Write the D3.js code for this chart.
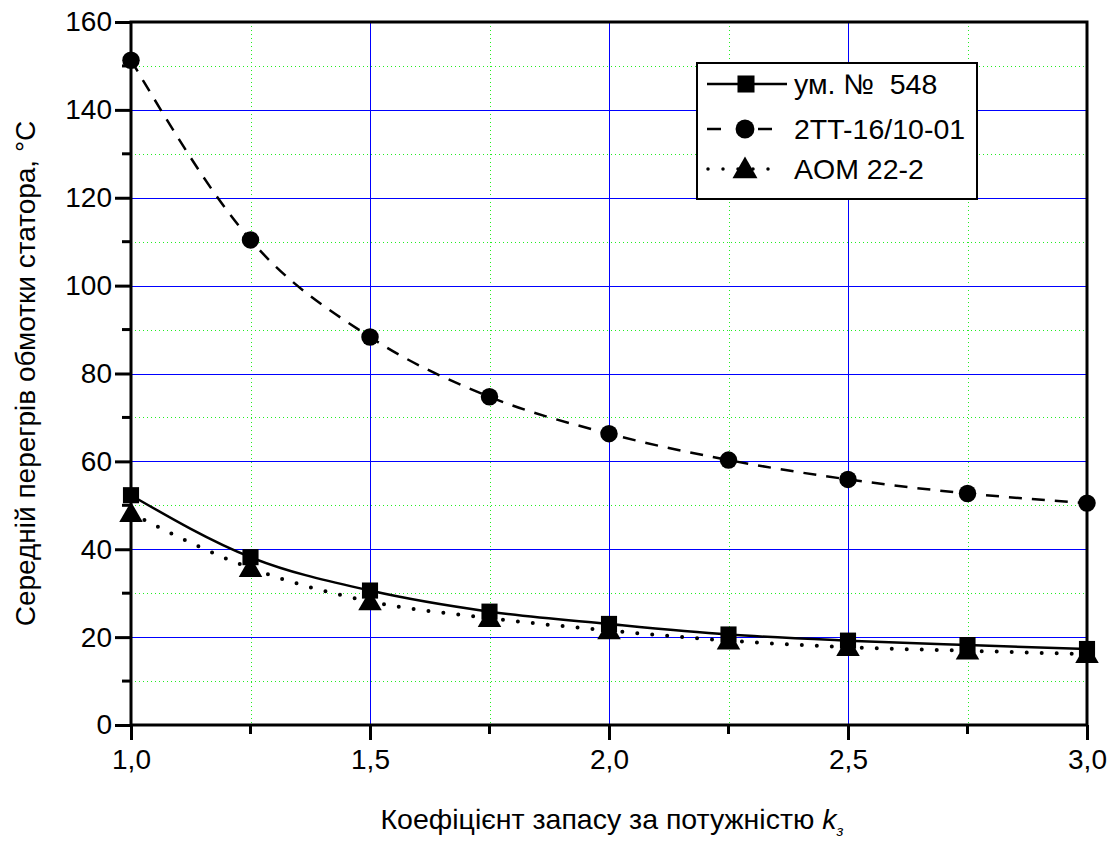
<!DOCTYPE html>
<html>
<head>
<meta charset="utf-8">
<script src="https://cdn.jsdelivr.net/npm/d3@7"></script>
<style>
  body { margin: 0; background: #fff; }
  svg { font-family: Arial, "Liberation Sans", sans-serif; }
</style>
</head>
<body>
<svg id="chart" width="1116" height="841"></svg>
<script>
// x values (коефіцієнт запасу)
const kValues = [1.0, 1.25, 1.5, 1.75, 2.0, 2.25, 2.5, 2.75, 3.0];
// series
const um548 = [52.3, 38.2, 30.6, 25.8, 23.0, 20.6, 19.2, 18.2, 17.3];
const tt16 = [151.3, 110.4, 88.3, 74.7, 66.3, 60.3, 55.9, 52.7, 50.5];
const aom22 = [48.2, 35.7, 28.1, 24.3, 21.5, 19.2, 17.7, 16.9, 16.1];
const seriesNames = ['ум. №  548', '2TT-16/10-01', 'AOM 22-2'];
const xTicks = [1.0, 1.5, 2.0, 2.5, 3.0];
const yTicks = [0, 20, 40, 60, 80, 100, 120, 140, 160];

const margin = { top: 22, right: 29, bottom: 116, left: 131 };
const width = 1116 - margin.left - margin.right;
const height = 841 - margin.top - margin.bottom;

const svg = d3.select('#chart');
const g = svg.append('g').attr('transform', `translate(${margin.left},${margin.top})`);

const x = d3.scaleLinear().domain([1, 3]).range([0, width]);
const y = d3.scaleLinear().domain([0, 160]).range([height, 0]);
const px = v => Math.round(v) + 0.5;

// minor grid (green dotted)
const minorX = [1.25, 1.75, 2.25, 2.75];
const minorY = d3.range(10, 160, 20);
g.selectAll('.gminx').data(minorX).enter().append('line')
  .attr('x1', d => px(x(d))).attr('x2', d => px(x(d))).attr('y1', 0).attr('y2', height)
  .attr('stroke', '#22ee22').attr('stroke-width', 1).attr('stroke-dasharray', '1,3')
  .attr('shape-rendering', 'crispEdges');
g.selectAll('.gminy').data(minorY).enter().append('line')
  .attr('x1', 0).attr('x2', width).attr('y1', d => px(y(d))).attr('y2', d => px(y(d)))
  .attr('stroke', '#22ee22').attr('stroke-width', 1).attr('stroke-dasharray', '1,3')
  .attr('shape-rendering', 'crispEdges');

// major grid (blue)
g.selectAll('.gmajx').data(xTicks.slice(1, -1)).enter().append('line')
  .attr('x1', d => px(x(d))).attr('x2', d => px(x(d))).attr('y1', 0).attr('y2', height)
  .attr('stroke', '#0000ff').attr('stroke-width', 1).attr('shape-rendering', 'crispEdges');
g.selectAll('.gmajy').data(yTicks.slice(1, -1)).enter().append('line')
  .attr('x1', 0).attr('x2', width).attr('y1', d => px(y(d))).attr('y2', d => px(y(d)))
  .attr('stroke', '#0000ff').attr('stroke-width', 1).attr('shape-rendering', 'crispEdges');

// axes
const xAxis = d3.axisBottom(x).tickValues(xTicks).tickSize(15).tickPadding(9)
  .tickFormat(d => d3.format('.1f')(d).replace('.', ','));
const yAxis = d3.axisLeft(y).tickValues(yTicks).tickSize(16).tickPadding(3);

const gx = g.append('g').attr('transform', `translate(0,${height})`).call(xAxis);
const gy = g.append('g').call(yAxis);
[gx, gy].forEach(a => {
  a.select('.domain').remove();
  a.selectAll('line').attr('stroke', '#000').attr('stroke-width', 3);
  a.selectAll('text').attr('fill', '#000').style('font-size', '28px');
});

// minor ticks
g.selectAll('.mtx').data(minorX).enter().append('line')
  .attr('x1', d => x(d)).attr('x2', d => x(d)).attr('y1', height).attr('y2', height + 9)
  .attr('stroke', '#000').attr('stroke-width', 3);
g.selectAll('.mty').data(minorY).enter().append('line')
  .attr('x1', -9).attr('x2', 0).attr('y1', d => y(d)).attr('y2', d => y(d))
  .attr('stroke', '#000').attr('stroke-width', 3);

// frame
g.append('rect').attr('x', 0).attr('y', 0).attr('width', width).attr('height', height)
  .attr('fill', 'none').attr('stroke', '#000').attr('stroke-width', 3);

// series
const styles = [
  { data: um548, dash: null, width: 2.5, marker: 'square' },
  { data: tt16, dash: '13,10', width: 2.5, marker: 'circle' },
  { data: aom22, dash: '0,15', width: 4, marker: 'triangle' },
];

const line = d3.line().x(d => x(d[0])).y(d => y(d[1])).curve(d3.curveMonotoneX);

const symbolFor = (m, big) => {
  if (m === 'square') return d3.symbol().type(d3.symbolSquare).size(big ? 290 : 260);
  if (m === 'circle') return d3.symbol().type(d3.symbolCircle).size(big ? 280 : 240);
  return d3.symbol().type(d3.symbolTriangle).size(big ? 270 : 240);
};

styles.forEach(s => {
  const pts = kValues.map((k, i) => [k, s.data[i]]);
  g.append('path').datum(pts)
    .attr('fill', 'none').attr('stroke', '#000')
    .attr('stroke-width', s.width)
    .attr('stroke-dasharray', s.dash)
    .attr('stroke-linecap', s.dash === '0,15' ? 'round' : 'butt')
    .attr('d', line);
  g.selectAll(null).data(pts).enter().append('path')
    .attr('d', symbolFor(s.marker))
    .attr('transform', d => `translate(${x(d[0])},${y(d[1]) + (s.marker === 'triangle' ? 2 : 0)})`)
    .attr('fill', '#000');
});

// legend
const lg = svg.append('g').attr('transform', 'translate(697,63)');
lg.append('rect').attr('width', 280).attr('height', 136)
  .attr('fill', '#fff').attr('stroke', '#000').attr('stroke-width', 2);
const rowY = [21, 66, 106];
styles.forEach((s, i) => {
  const r = lg.append('g').attr('transform', `translate(0,${rowY[i]})`);
  if (s.marker === 'square') {
    r.append('line').attr('x1', 10).attr('x2', 90).attr('stroke', '#000').attr('stroke-width', 2.5);
  } else if (s.marker === 'circle') {
    r.append('line').attr('x1', 10).attr('x2', 24).attr('stroke', '#000').attr('stroke-width', 2.5);
    r.append('line').attr('x1', 61).attr('x2', 75).attr('stroke', '#000').attr('stroke-width', 2.5);
  } else {
    r.append('line').attr('x1', 11).attr('x2', 82).attr('stroke', '#000')
      .attr('stroke-width', 3.5).attr('stroke-dasharray', '0,15').attr('stroke-linecap', 'round');
  }
  r.append('path').attr('d', symbolFor(s.marker, true))
    .attr('transform', `translate(${s.marker === 'square' ? 49 : 48},${s.marker === 'triangle' ? 2 : 0})`)
    .attr('fill', '#000');
  r.append('text').attr('x', 97).attr('y', 10)
    .style('font-size', '28.5px').style('white-space', 'pre')
    .text(seriesNames[i]);
});

// axis titles
const xt = svg.append('text').attr('x', 612).attr('y', 829)
  .attr('text-anchor', 'middle').style('font-size', '28.5px');
xt.append('tspan').text('Коефіцієнт запасу за потужністю ');
xt.append('tspan').style('font-style', 'italic').text('k');
xt.append('tspan').attr('dy', 7).style('font-size', '15px').style('font-style', 'italic').text('з');

svg.append('text')
  .attr('transform', `translate(35,${margin.top + height / 2}) rotate(-90)`)
  .attr('text-anchor', 'middle').style('font-size', '28px')
  .text('Середній перегрів обмотки статора, °С');
</script>
</body>
</html>
